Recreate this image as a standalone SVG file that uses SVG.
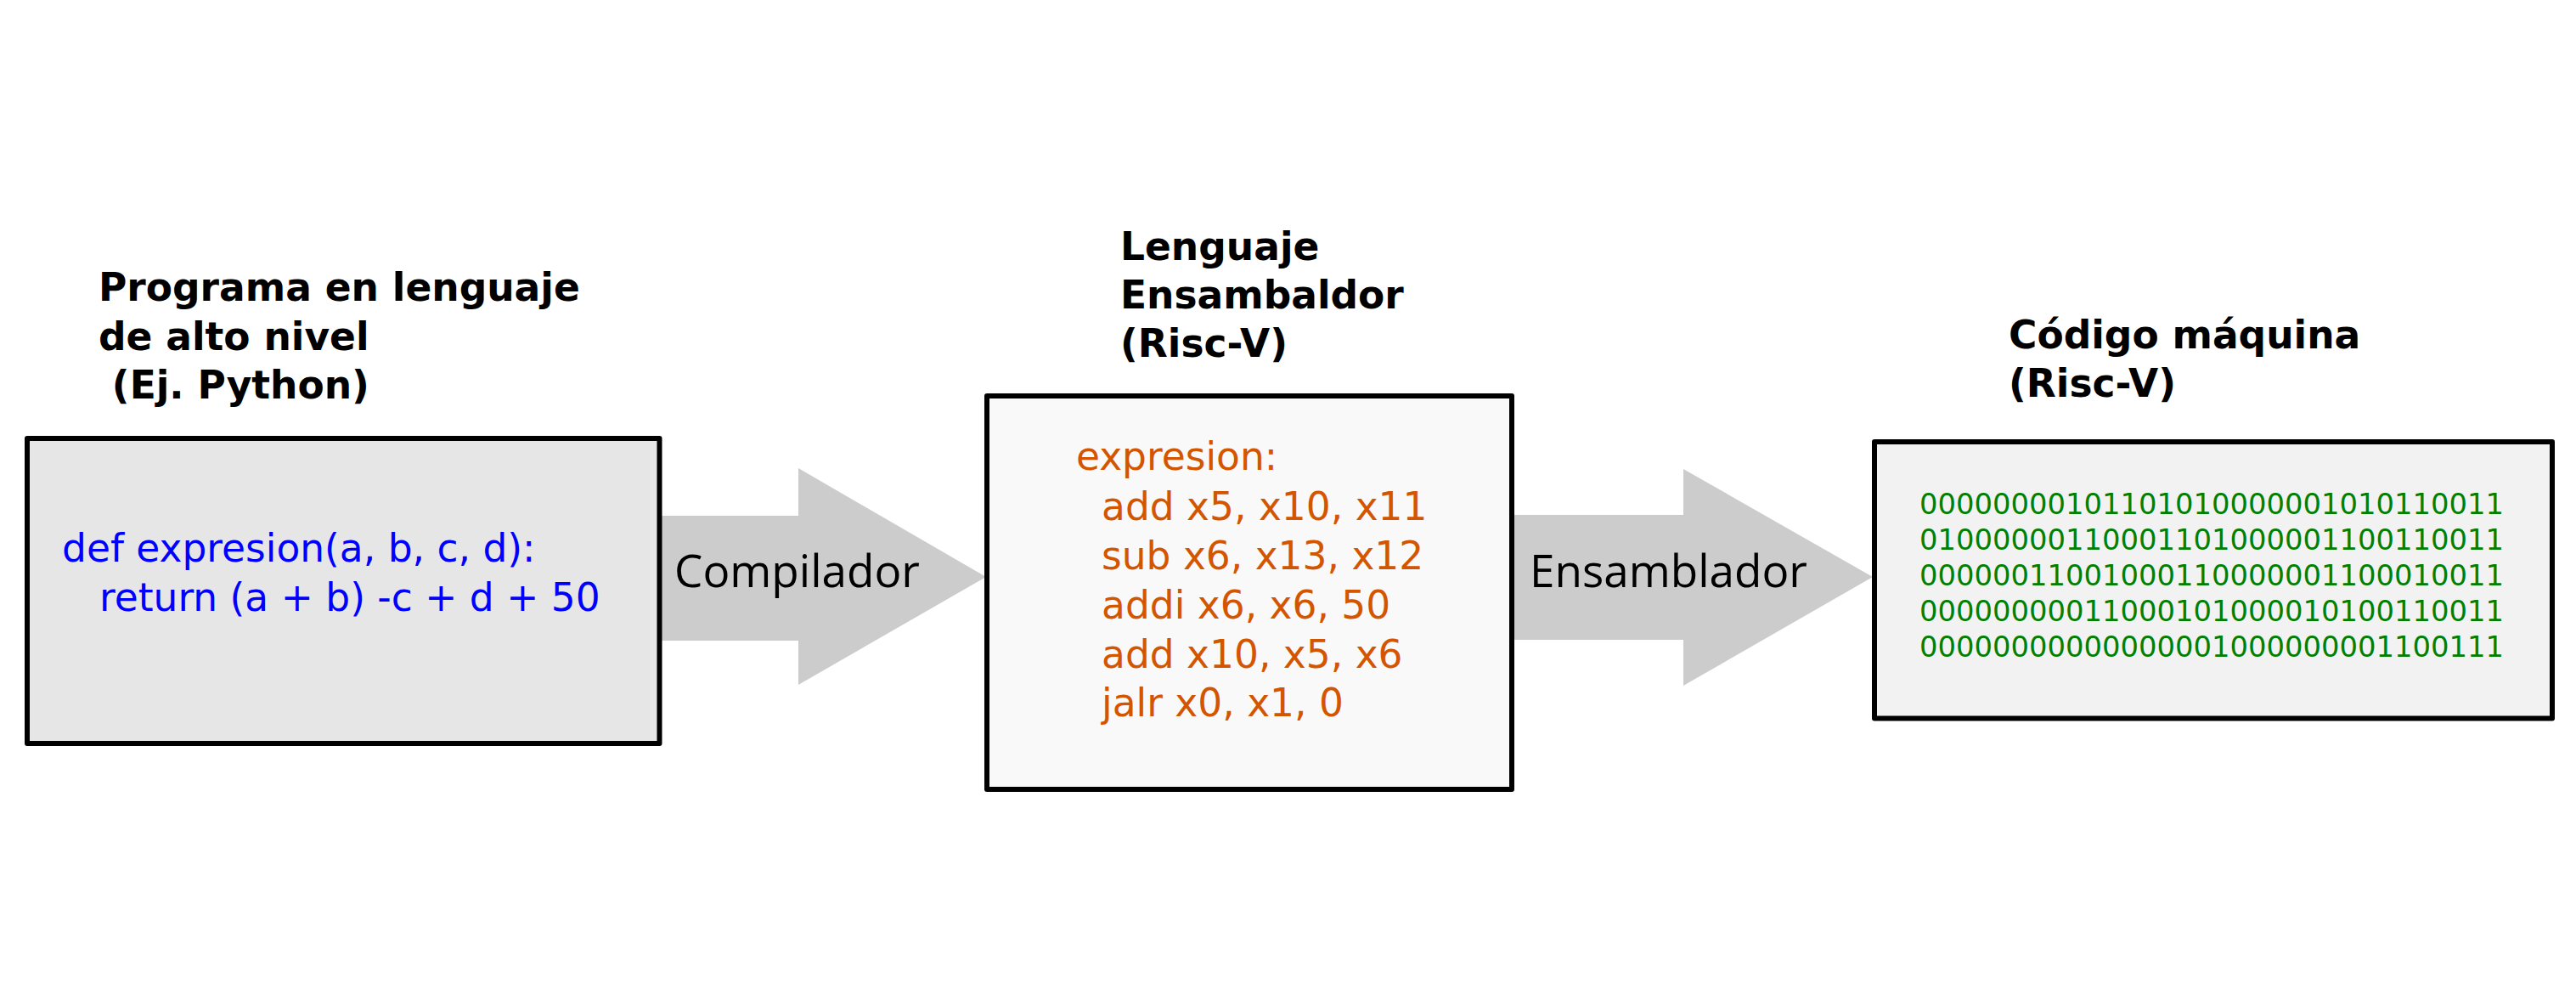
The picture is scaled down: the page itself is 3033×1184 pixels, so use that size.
<svg xmlns="http://www.w3.org/2000/svg" width="3033" height="1184" viewBox="0 0 3033 1184">
<style>
.head{font-family:"DejaVu Sans",sans-serif;font-weight:bold;font-size:45.5px;fill:#000}
.code{font-family:"DejaVu Sans",sans-serif;font-size:45.5px}
.py{fill:#0000ff}
.asm{fill:#d45500}
.bin{font-family:"DejaVu Sans",sans-serif;font-size:33.8px;fill:#008000}
.box{stroke:#000;stroke-width:6;stroke-linejoin:round}
.arrow{fill:#cccccc;stroke:none}
.lbl{font-family:"Open Sans",sans-serif;font-size:53px;fill:#000}
</style>
<rect width="3033" height="1184" fill="#ffffff"/>
<g id="connectors">
  <g id="arrow-compilador">
    <polygon class="arrow" points="774,607 940,607 940,551 1161,679 940,806 940,754 774,754"/>
    <text class="lbl" x="794" y="691">Compilador</text>
  </g>
  <g id="arrow-ensamblador">
    <polygon class="arrow" points="1780,606 1982,606 1982,552 2205,679 1982,807 1982,753 1780,753"/>
    <text class="lbl" x="1801" y="691">Ensamblador</text>
  </g>
</g>
<g id="node-python">
  <text class="head" x="116" y="354">Programa en lenguaje</text>
  <text class="head" x="116" y="412">de alto nivel</text>
  <text class="head" x="116" y="469" xml:space="preserve"> (Ej. Python)</text>
  <rect class="box" x="32" y="516" width="744.5" height="359" fill="#e6e6e6"/>
  <text class="code py" x="73" y="661">def expresion(a, b, c, d):</text>
  <text class="code py" x="117" y="719">return (a + b) -c + d + 50</text>
</g>
<g id="node-asm">
  <text class="head" x="1319" y="306">Lenguaje</text>
  <text class="head" x="1319" y="363">Ensambaldor</text>
  <text class="head" x="1319" y="420">(Risc-V)</text>
  <rect class="box" x="1162" y="466" width="618" height="463" fill="#f9f9f9"/>
  <text class="code asm" x="1267" y="553">expresion:</text>
  <text class="code asm" x="1297" y="612">add x5, x10, x11</text>
  <text class="code asm" x="1297" y="670">sub x6, x13, x12</text>
  <text class="code asm" x="1297" y="728">addi x6, x6, 50</text>
  <text class="code asm" x="1297" y="786">add x10, x5, x6</text>
  <text class="code asm" x="1297" y="843">jalr x0, x1, 0</text>
</g>
<g id="node-machine">
  <text class="head" x="2365" y="410">Código máquina</text>
  <text class="head" x="2365" y="467">(Risc-V)</text>
  <rect class="box" x="2207" y="520" width="798" height="325.5" fill="#f2f2f2"/>
  <text class="bin" x="2260" y="605">00000000101101010000001010110011</text>
  <text class="bin" x="2260" y="647">01000000110001101000001100110011</text>
  <text class="bin" x="2260" y="689">00000011001000110000001100010011</text>
  <text class="bin" x="2260" y="731">00000000011000101000010100110011</text>
  <text class="bin" x="2260" y="773">00000000000000001000000001100111</text>
</g>
</svg>
